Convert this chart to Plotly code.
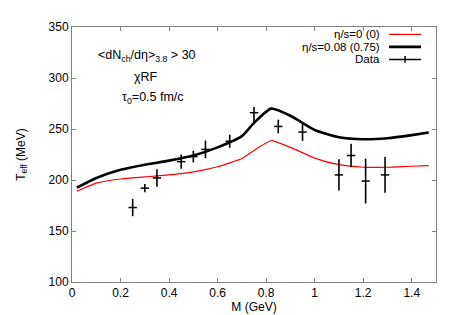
import plotly.graph_objects as go

# ---- data ----
m_curve = [0.02, 0.1, 0.2, 0.3, 0.4, 0.5, 0.6, 0.7, 0.75, 0.82, 0.9, 1.0, 1.1, 1.2, 1.3, 1.4, 1.47]
t_ideal = [189, 197, 201, 203, 205, 208, 213, 221, 229, 238.5, 232, 221.5, 215, 212.5, 212.5, 213.5, 214]
t_visc = [192.5, 202, 210, 215, 219, 224, 232, 243, 256, 270, 263, 249, 242, 240, 241, 244, 246.5]

m_data = [0.25, 0.30, 0.35, 0.45, 0.50, 0.55, 0.65, 0.75, 0.85, 0.95, 1.10, 1.15, 1.21, 1.29]
t_data = [173, 192, 202, 218, 223, 230, 238, 266, 252.5, 247, 205, 224, 199, 205]
err_up = [8.5, 4, 8.5, 7, 5.7, 8.7, 6.4, 5.5, 6.7, 8.7, 15.4, 11.5, 22, 17.5]
err_dn = [8.5, 4, 8.5, 7, 5.7, 8.7, 6.4, 11.5, 6.7, 8.7, 15.4, 11.5, 22, 17.5]

x_ticks = [0, 0.2, 0.4, 0.6, 0.8, 1.0, 1.2, 1.4]
x_tick_text = ["0", "0.2", "0.4", "0.6", "0.8", "1", "1.2", "1.4"]
y_ticks = [100, 150, 200, 250, 300, 350]

legend_labels = ["η/s=0 (0)", "η/s=0.08 (0.75)", "Data"]

FONT = "Liberation Sans, Arial, sans-serif"
AX = "#808080"
TXT = 12.5
LEG = 11.5

fig = go.Figure()
fig.add_trace(go.Scatter(x=m_curve, y=t_ideal, mode="lines",
                         line=dict(color="#ff0000", width=1.2, shape="spline", smoothing=0.5),
                         showlegend=False))
fig.add_trace(go.Scatter(x=m_curve, y=t_visc, mode="lines",
                         line=dict(color="#000000", width=2.6, shape="spline", smoothing=0.5),
                         showlegend=False))
fig.add_trace(go.Scatter(x=m_data, y=t_data, mode="markers",
                         marker=dict(symbol="line-ew", size=6, line=dict(color="black", width=1.5)),
                         error_y=dict(type="data", array=err_up, arrayminus=err_dn, symmetric=False,
                                      color="black", thickness=1.6, width=0),
                         showlegend=False))

# Legend built manually (text on left, sample on right like gnuplot)
rows_y = [0.971, 0.922, 0.873]
styles = [("#ff0000", 1.2), ("#000000", 2.6), ("#000000", 1.5)]
for lab, yy, (col, w) in zip(legend_labels, rows_y, styles):
    fig.add_annotation(x=0.849, y=yy, xref="paper", yref="paper", text=lab,
                       showarrow=False, xanchor="right", yanchor="middle", borderpad=0,
                       font=dict(family=FONT, size=LEG, color="black"))
    fig.add_shape(type="line", xref="paper", yref="paper", x0=0.871, x1=0.959, y0=yy, y1=yy,
                  line=dict(color=col, width=w))
fig.add_shape(type="line", xref="paper", yref="paper", x0=0.915, x1=0.915,
              y0=rows_y[2] - 0.013, y1=rows_y[2] + 0.013, line=dict(color="black", width=1.5))

# Text labels
fig.add_annotation(x=0.207, y=0.885, xref="paper", yref="paper",
                   text="&lt;dN<sub>ch</sub>/dη&gt;<sub>3.8</sub> &gt; 30", showarrow=False,
                   xanchor="center", yanchor="middle", font=dict(family=FONT, size=TXT, color="black"))
fig.add_annotation(x=0.203, y=0.802, xref="paper", yref="paper", text="χRF", showarrow=False,
                   xanchor="center", yanchor="middle", font=dict(family=FONT, size=TXT, color="black"))
fig.add_annotation(x=0.222, y=0.721, xref="paper", yref="paper", text="τ<sub>0</sub>=0.5 fm/c",
                   showarrow=False, xanchor="center", yanchor="middle",
                   font=dict(family=FONT, size=TXT, color="black"))

fig.update_layout(
    width=450, height=315,
    margin=dict(l=63, r=22, t=15, b=38),
    paper_bgcolor="white", plot_bgcolor="white",
    font=dict(family=FONT, size=12, color="black"),
    showlegend=False,
    xaxis=dict(range=[0, 1.5], tickvals=x_ticks, ticktext=x_tick_text,
               ticks="inside", ticklen=4, tickcolor=AX, showline=True, linecolor=AX,
               linewidth=1, mirror="allticks", showgrid=False, zeroline=False,
               tickfont=dict(size=12),
               title=dict(text="M (GeV)", standoff=2, font=dict(size=12))),
    yaxis=dict(range=[100, 350], tickvals=y_ticks,
               ticks="inside", ticklen=4, tickcolor=AX, showline=True, linecolor=AX,
               linewidth=1, mirror="allticks", showgrid=False, zeroline=False,
               tickfont=dict(size=12),
               title=dict(text="T<sub>eff</sub> (MeV)", standoff=20, font=dict(size=12))),
)

fig.write_html("out.html")
